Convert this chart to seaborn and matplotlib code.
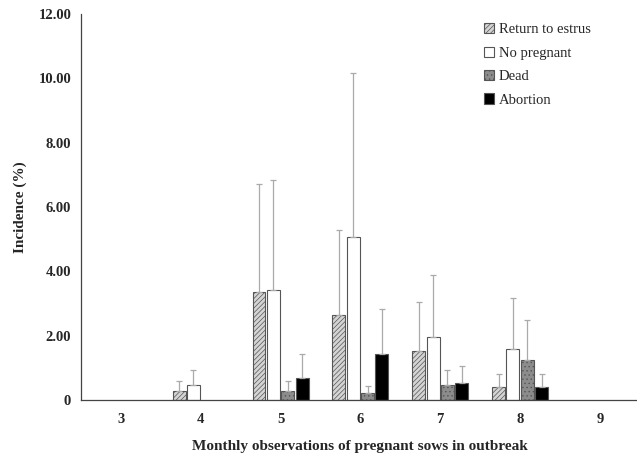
import numpy as np
import pandas as pd
import matplotlib
matplotlib.use("Agg")
import matplotlib.pyplot as plt
from matplotlib.ticker import FuncFormatter, FixedLocator
import seaborn as sns

# Data
months = [3, 4, 5, 6, 7, 8, 9]
groups = ["Return to estrus", "No pregnant", "Dead", "Abortion"]

bar_month = [4, 4,
             5, 5, 5, 5,
             6, 6, 6, 6,
             7, 7, 7, 7,
             8, 8, 8, 8]
bar_group = ["Return to estrus", "No pregnant",
             "Return to estrus", "No pregnant", "Dead", "Abortion",
             "Return to estrus", "No pregnant", "Dead", "Abortion",
             "Return to estrus", "No pregnant", "Dead", "Abortion",
             "Return to estrus", "No pregnant", "Dead", "Abortion"]
incidence = [0.28, 0.47,
             3.35, 3.42, 0.28, 0.70,
             2.65, 5.08, 0.22, 1.42,
             1.53, 1.95, 0.47, 0.53,
             0.40, 1.58, 1.25, 0.40]
sd = [0.32, 0.46,
      3.37, 3.43, 0.32, 0.72,
      2.65, 5.07, 0.23, 1.40,
      1.52, 1.93, 0.46, 0.52,
      0.40, 1.59, 1.23, 0.40]

df = pd.DataFrame({"month": bar_month, "group": bar_group,
                   "incidence": incidence, "sd": sd})

face = {"Return to estrus": "#d4d4d4", "No pregnant": "#ffffff",
        "Dead": "#8c8c8c", "Abortion": "#000000"}
hatches = {"Return to estrus": "///////", "No pregnant": "",
           "Dead": "....", "Abortion": ""}

sns.set_style("white")
plt.rcParams["font.family"] = ["Liberation Serif", "DejaVu Serif"]
plt.rcParams["hatch.linewidth"] = 0.5

fig = plt.figure(figsize=(6.37, 4.61), dpi=100)
ax = fig.add_axes([0.127, 0.132, 0.875, 0.838])

sns.barplot(data=df, x="month", y="incidence", hue="group", order=months,
            hue_order=groups, palette=face, width=0.72, gap=0.1,
            edgecolor="#555555", linewidth=0.8, ax=ax, legend=True)

for grp, cont in zip(groups, ax.containers):
    sub = df[df["group"] == grp].set_index("month")
    for bar in cont:
        bar.set_hatch(hatches[grp])
        xc = bar.get_x() + bar.get_width() / 2
        m = months[int(round(xc))]
        if m not in sub.index:
            continue
        h = sub.loc[m, "incidence"]
        e = sub.loc[m, "sd"]
        ax.errorbar(xc, h, yerr=[[0], [e]], fmt="none", ecolor="#aaaaaa",
                    elinewidth=0.9, capsize=2, capthick=0.9, zorder=1)

ax.set_ylim(0, 12)
ax.set_xlim(-0.5, 6.48)
ax.set_yticks(np.arange(0, 12.01, 2))
ax.yaxis.set_major_formatter(FuncFormatter(lambda v, p: "0" if v == 0 else f"{v:.2f}"))
ax.xaxis.set_minor_locator(FixedLocator(np.arange(0.5, 6.5, 1)))
ax.tick_params(axis="x", which="major", length=0, pad=9)
ax.tick_params(axis="x", which="minor", length=4, width=0.8, direction="out", color="#444444")
ax.tick_params(axis="y", length=4, width=0.8, direction="out", color="#444444", pad=3)
for lab in ax.get_xticklabels() + ax.get_yticklabels():
    lab.set_fontweight("bold")
    lab.set_fontsize(10.5)

sns.despine(ax=ax, top=True, right=True)
for s in ["left", "bottom"]:
    ax.spines[s].set_color("#444444")
    ax.spines[s].set_linewidth(0.9)

ax.set_ylabel("Incidence (%)", fontsize=11, fontweight="bold", labelpad=8)
ax.set_xlabel("Monthly observations of pregnant sows in outbreak",
              fontsize=11, fontweight="bold", labelpad=10)

handles, labels = ax.get_legend_handles_labels()
for hnd, grp in zip(handles, groups):
    hnd.set_hatch(hatches[grp])
ax.legend(handles, labels, loc="upper left", bbox_to_anchor=(0.7, 1.01),
          frameon=False, fontsize=10.5, handlelength=0.7, handleheight=0.7,
          handletextpad=0.3, labelspacing=0.7)

fig.savefig("out.png", dpi=100)
